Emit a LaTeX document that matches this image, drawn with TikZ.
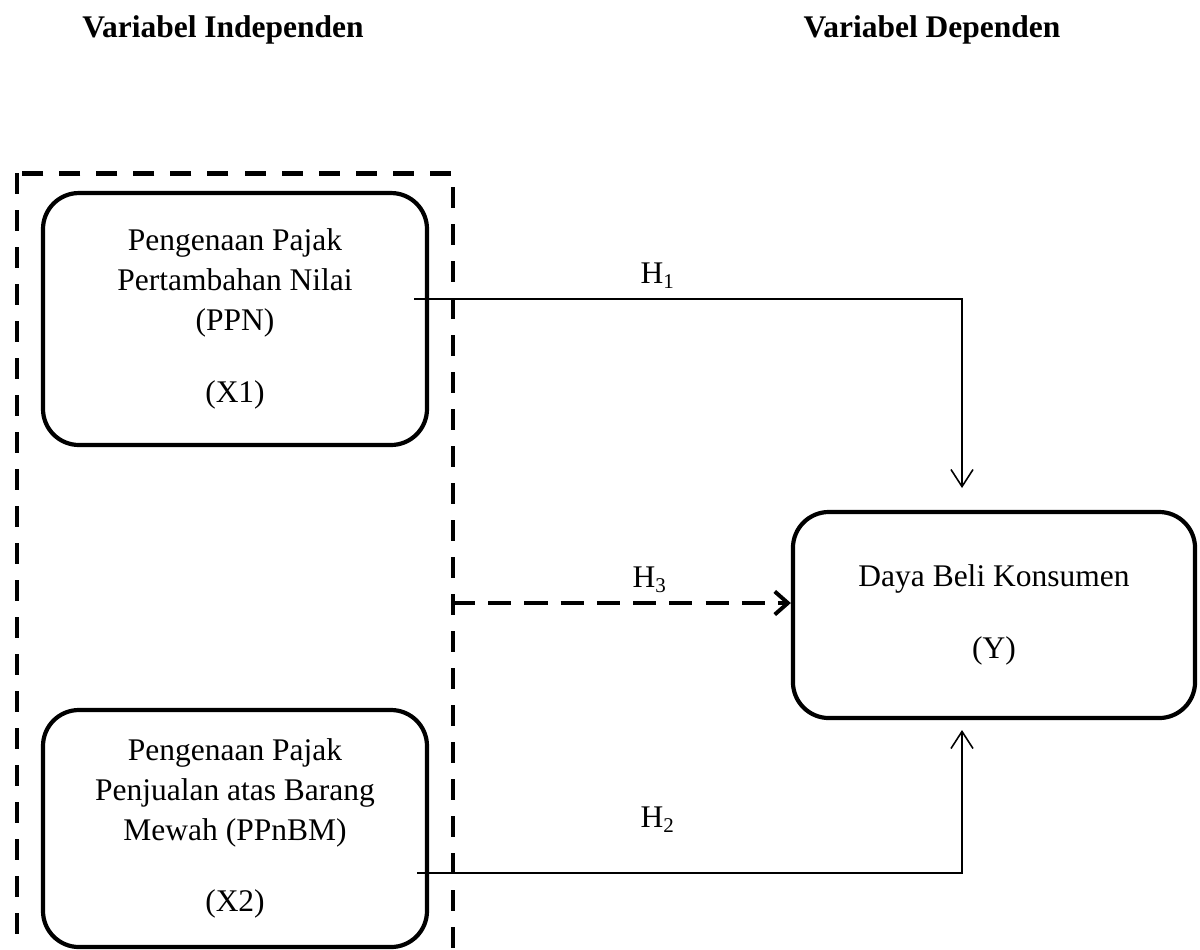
\documentclass[tikz,border=0pt]{standalone}
\usepackage{fontspec}
\setmainfont{Liberation Serif}
\usepackage{tikz}
\usetikzlibrary{arrows.meta}

\tikzset{
  varbox/.style={draw, line width=1.6pt, rounded corners=13.7pt, minimum width=146.3pt, align=center, font=\fontsize{12}{15.2}\selectfont},
  hpath/.style={line width=0.6pt, -{Straight Barb[length=6.5pt,width=8.4pt]}},
  hdash/.style={line width=1.5pt, dash pattern=on 8.8pt off 5pt, -{Straight Barb[length=5pt,width=8.8pt,line width=1.5pt]}},
  hlabel/.style={font=\fontsize{12}{14}\selectfont},
  headtext/.style={font=\fontsize{12}{14}\selectfont\bfseries, anchor=base}
}

\begin{document}
\begin{tikzpicture}[x=0.381pt,y=-0.381pt]
\useasboundingbox (0,0) rectangle (1200,949);
\clip (0,0) rectangle (1200,949);

\node [headtext] (indep) at (223,37) {Variabel Independen};
\node [headtext] (dep) at (932,37) {Variabel Dependen};

\draw [line width=1.9pt, dash pattern=on 8pt off 6.1pt] (17,173) rectangle (453,990);

\node [varbox, minimum height=96pt] (x1) at (235,319) {Pengenaan Pajak\\Pertambahan Nilai\\(PPN)\\[12pt](X1)};
\node [varbox, minimum height=90.3pt] (x2) at (235,828.5) {Pengenaan Pajak\\Penjualan atas Barang\\Mewah (PPnBM)\\[12pt](X2)};
\node [varbox, minimum width=153.2pt, minimum height=78.5pt] (y) at (994,615) {Daya Beli Konsumen\\[12pt](Y)};

\coordinate (h1s) at (414,299); \coordinate (h1e) at (962,488);
\coordinate (h2s) at (417,873); \coordinate (h2e) at (962,730);
\coordinate (h3s) at (452,603);

\draw [hpath] (h1s) -| (h1e); \node [hlabel] (h1) at (658,276) {H\textsubscript{1}};
\draw [hpath] (h2s) -| (h2e); \node [hlabel] (h2) at (658,820) {H\textsubscript{2}};
\draw [hdash] (h3s) -- (h3s -| y.west); \node [hlabel] (h3) at (650,580) {H\textsubscript{3}};

\end{tikzpicture}
\end{document}
